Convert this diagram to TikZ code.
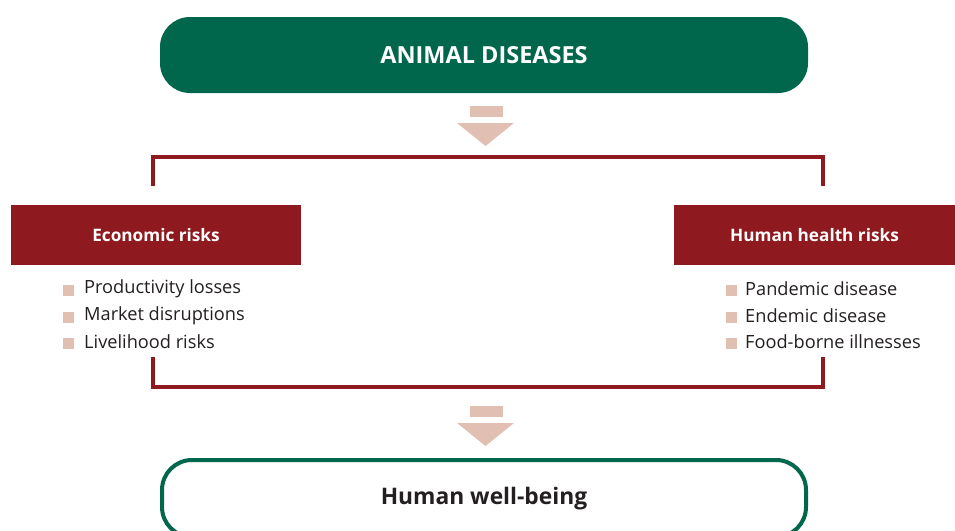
\documentclass[tikz,border=0pt]{standalone}
\usepackage{fontspec}
\setmainfont{Open Sans}
\usepackage{tikz}
\usetikzlibrary{positioning,calc}

\definecolor{fgreen}{HTML}{00664C}
\definecolor{fred}{HTML}{8E1A1F}
\definecolor{fpink}{HTML}{E1C0B3}
\definecolor{ftext}{HTML}{231F20}

\begin{document}
\begin{tikzpicture}[x=1pt,y=-1pt,
  topbox/.style={fill=fgreen,rounded corners=30pt,minimum width=648pt,minimum height=76pt,
    text=white,font=\fontsize{23.5}{28}\selectfont\bfseries},
  endbox/.style={draw=fgreen,line width=4pt,rounded corners=30pt,minimum width=644pt,minimum height=77pt,
    text=ftext,font=\fontsize{22.8}{27}\selectfont\bfseries},
  riskbox/.style={fill=fred,minimum height=60pt,text=white,font=\fontsize{17.2}{20}\selectfont\bfseries},
  item/.style={anchor=west,inner sep=0pt,text=ftext,font=\fontsize{18.2}{22}\selectfont},
  bracket/.style={draw=fred,line width=4pt},
  bulletsq/.style={fill=fpink,minimum size=11pt,inner sep=0pt}]
\useasboundingbox (0,0) rectangle (955,530);
\clip (0,0) rectangle (955,530);

% Boxes
\node[topbox] (disease) at (484,55) {ANIMAL DISEASES};
\node[riskbox,minimum width=290pt] (econ) at (156,235) {Economic risks};
\node[riskbox,minimum width=281pt] (health) at (814.5,235) {Human health risks};
\node[endbox] (wellbeing) at (484,498.5) {Human well-being};

% Bullet lists
\foreach \txt [count=\i] in {Productivity losses,Market disruptions,Livelihood risks}{
  \node[item] (econ\i) at (84,{262.5+26.5*\i}) {\txt};
  \node[bulletsq,left=10pt of econ\i.west,yshift=-1.5pt] {};
}
\foreach \txt [count=\i] in {Pandemic disease,Endemic disease,Food-borne illnesses}{
  \node[item] (health\i) at (745,{262.5+26.5*\i}) {\txt};
  \node[bulletsq,left=8pt of health\i.west,yshift=-1.5pt] {};
}

% Brackets
\coordinate (tl) at (153,186);
\coordinate (tr) at (823,186);
\coordinate (bl) at (153,357);
\coordinate (br) at (823,357);
\draw[bracket] (tl) |- (485,157) -| (tr);
\draw[bracket] (bl) |- (485,387) -| (br);

% Block arrows
\foreach \y in {106,406}{
  \fill[fpink] (470,\y) rectangle (503,\y+11);
  \fill[fpink] (457,\y+17) -- (514,\y+17) -- (485.5,\y+40) -- cycle;
}

\end{tikzpicture}
\end{document}
